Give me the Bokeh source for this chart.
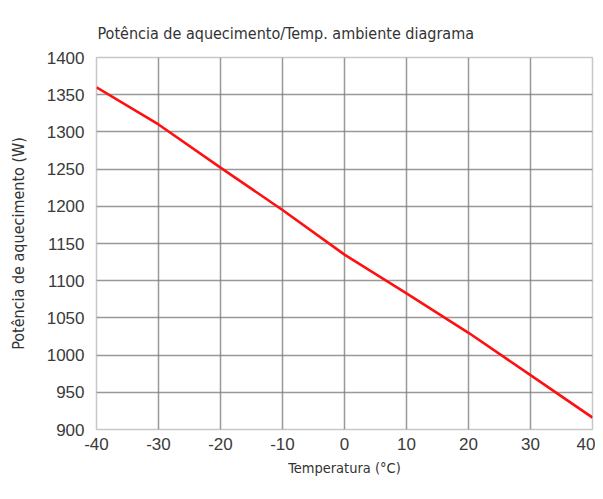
from bokeh.plotting import figure
from bokeh.models import FixedTicker, Range1d, PrintfTickFormatter
from bokeh.embed import file_html
from bokeh.resources import INLINE

temperatura = [-40, -30, -20, -10, 0, 10, 20, 30, 40]
potencia = [1360, 1310, 1252, 1195, 1135, 1083, 1030, 973, 916]
x_ticks = [-40, -30, -20, -10, 0, 10, 20, 30, 40]
y_ticks = [900, 950, 1000, 1050, 1100, 1150, 1200, 1250, 1300, 1350, 1400]

title_text = "Potência de aquecimento/Temp. ambiente diagrama"
x_label = "Temperatura (°C)"
y_label = "Potência de aquecimento (W)"

LABEL_FONT = "DejaVu Sans Condensed"
TICK_FONT = "Liberation Sans"

p = figure(width=595, height=480, output_backend="svg", toolbar_location=None,
           x_range=Range1d(-40, 40), y_range=Range1d(900, 1400),
           min_border_left=96, min_border_right=3, min_border_top=57, min_border_bottom=51)

p.title.text = title_text
p.title.text_font = LABEL_FONT
p.title.text_font_size = "16px"
p.title.text_font_style = "normal"
p.title.text_color = "#333333"
p.title.align = "left"
p.title.offset = 1
p.title.standoff = 30

p.line(temperatura, potencia, line_color="#ff1010", line_width=2.6)

for ax, ticks in ((p.xaxis, x_ticks), (p.yaxis, y_ticks)):
    ax.ticker = FixedTicker(ticks=ticks)
    ax.formatter = PrintfTickFormatter(format="%d")
    ax.major_tick_line_color = None
    ax.minor_tick_line_color = None
    ax.axis_line_color = None
    ax.major_label_text_font = TICK_FONT
    ax.major_label_text_font_size = "17px"
    ax.major_label_text_color = "#3a3a3a"
    ax.axis_label_text_font = LABEL_FONT
    ax.axis_label_text_font_style = "normal"
    ax.axis_label_text_color = "#333333"

p.xaxis.axis_label_text_font_size = "14.5px"
p.yaxis.axis_label_text_font_size = "16px"
p.xaxis.axis_label = x_label
p.yaxis.axis_label = y_label
p.xaxis.major_label_standoff = 2
p.yaxis.major_label_standoff = 6
p.xaxis.axis_label_standoff = 7
p.yaxis.axis_label_standoff = 16

p.xgrid.ticker = FixedTicker(ticks=x_ticks)
p.ygrid.ticker = FixedTicker(ticks=y_ticks)
p.grid.grid_line_color = "#808080"
p.grid.grid_line_alpha = 0.8
p.grid.grid_line_width = 1.5

p.outline_line_color = "#c8c8c8"
p.outline_line_width = 1.5
p.background_fill_color = "white"
p.border_fill_color = "white"

open("out.html", "w").write(file_html(p, INLINE))
